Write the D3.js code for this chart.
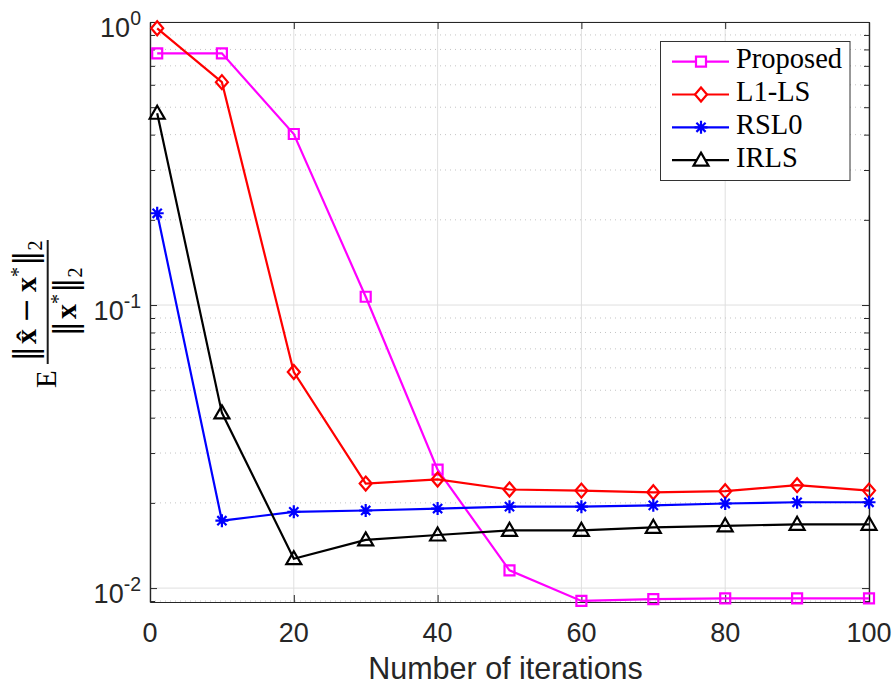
<!DOCTYPE html>
<html>
<head>
<meta charset="utf-8">
<script src="https://cdn.jsdelivr.net/npm/d3@7"></script>
<style>
  body { margin: 0; background: #fff; }
  .axis path, .axis line { stroke: #262626; }
  .tick-label { font-family: "Liberation Sans", Arial, sans-serif; fill: #262626; }
  .tex { font-family: "Liberation Serif", "Times New Roman", serif; fill: #000; }
  .bars { font-family: "DejaVu Serif", serif; }
</style>
</head>
<body>
<div id="chart"></div>
<script>
// iterations on the x axis
var iterations = [1, 10, 20, 30, 40, 50, 60, 70, 80, 90, 100];

// normalised error for each method
var proposed = [0.775, 0.775, 0.402, 0.107, 0.0262, 0.01155, 0.00901, 0.00914, 0.0092, 0.0092, 0.0092];
var l1ls     = [0.95, 0.613, 0.058, 0.0234, 0.0242, 0.0223, 0.0221, 0.0218, 0.0220, 0.0231, 0.0221];
var rsl0     = [0.211, 0.0173, 0.0186, 0.0188, 0.0191, 0.0194, 0.0194, 0.0196, 0.0199, 0.0201, 0.0201];
var irls     = [0.476, 0.0416, 0.0127, 0.0148, 0.0154, 0.0160, 0.0160, 0.0164, 0.0166, 0.0168, 0.0168];

var seriesNames = ["Proposed", "L1-LS", "RSL0", "IRLS"];
var seriesColors = ["#ff00ff", "#ff0000", "#0000ff", "#000000"];
var seriesMarkers = ["square", "diamond", "asterisk", "triangle"];

var xTicks = [0, 20, 40, 60, 80, 100];
var yDecades = [-2, -1, 0];

var width = 893, height = 687;
var margin = {top: 22, right: 24, bottom: 85, left: 150};

var svg = d3.select("#chart").append("svg")
  .attr("width", width)
  .attr("height", height);

var xScale = d3.scaleLinear()
  .domain([0, 100])
  .range([margin.left, width - margin.right]);

var yScale = d3.scaleLog()
  .domain([0.00893, 1])
  .range([height - margin.bottom, margin.top]);

var x0 = xScale.range()[0], x1 = xScale.range()[1];
var yB = yScale.range()[0], yT = yScale.range()[1];

var majorY = yDecades.map(function(e) { return Math.pow(10, e); });
var minorY = [];
[-3, -2, -1].forEach(function(e) {
  for (var k = 2; k <= 9; k++) {
    var v = k * Math.pow(10, e);
    if (v >= yScale.domain()[0] && v <= yScale.domain()[1]) minorY.push(v);
  }
});

// grid
var grid = svg.append("g");
grid.selectAll(".gx").data(xTicks).enter().append("line")
  .attr("x1", function(d) { return xScale(d); })
  .attr("x2", function(d) { return xScale(d); })
  .attr("y1", yT).attr("y2", yB)
  .attr("stroke", "#dfdfdf").attr("stroke-width", 1);
grid.selectAll(".gmy").data(minorY).enter().append("line")
  .attr("x1", x0).attr("x2", x1)
  .attr("y1", function(d) { return yScale(d); })
  .attr("y2", function(d) { return yScale(d); })
  .attr("stroke", "#c4c4c4").attr("stroke-width", 1)
  .attr("stroke-dasharray", "1,4");
grid.selectAll(".gy").data(majorY).enter().append("line")
  .attr("x1", x0).attr("x2", x1)
  .attr("y1", function(d) { return yScale(d); })
  .attr("y2", function(d) { return yScale(d); })
  .attr("stroke", "#dfdfdf").attr("stroke-width", 1);

// axes (ticks inside, box on)
function styleAxis(g) {
  g.attr("class", "axis");
  g.select(".domain").attr("stroke-width", 1.2);
  g.selectAll(".tick line").attr("stroke-width", 1);
}
svg.append("g")
  .attr("transform", "translate(0," + yB + ")")
  .call(d3.axisBottom(xScale).tickValues(xTicks).tickSize(-7).tickSizeOuter(0).tickFormat(""))
  .call(styleAxis);
svg.append("g")
  .attr("transform", "translate(0," + yT + ")")
  .call(d3.axisTop(xScale).tickValues(xTicks).tickSize(-7).tickSizeOuter(0).tickFormat(""))
  .call(styleAxis);
svg.append("g")
  .attr("transform", "translate(" + x0 + ",0)")
  .call(d3.axisLeft(yScale).tickValues(majorY).tickSize(-7).tickSizeOuter(0).tickFormat(""))
  .call(styleAxis);
svg.append("g")
  .attr("transform", "translate(" + x0 + ",0)")
  .call(d3.axisLeft(yScale).tickValues(minorY).tickSize(-5).tickSizeOuter(0).tickFormat(""))
  .call(styleAxis);
svg.append("g")
  .attr("transform", "translate(" + x1 + ",0)")
  .call(d3.axisRight(yScale).tickValues(majorY).tickSize(-7).tickSizeOuter(0).tickFormat(""))
  .call(styleAxis);
svg.append("g")
  .attr("transform", "translate(" + x1 + ",0)")
  .call(d3.axisRight(yScale).tickValues(minorY).tickSize(-5).tickSizeOuter(0).tickFormat(""))
  .call(styleAxis);

// x tick labels
svg.selectAll(".xl").data(xTicks).enter().append("text")
  .attr("class", "tick-label")
  .attr("x", function(d) { return xScale(d); })
  .attr("y", yB + 40)
  .attr("text-anchor", "middle")
  .style("font-size", "27px")
  .text(function(d) { return d; });

// y tick labels 10^n
var yl = svg.selectAll(".yl").data(yDecades).enter().append("text")
  .attr("class", "tick-label")
  .attr("x", x0 - 9)
  .attr("y", function(d) { return yScale(Math.pow(10, d)) + 14.5; })
  .attr("text-anchor", "end")
  .style("font-size", "27px");
yl.append("tspan").text("10");
yl.append("tspan").attr("dy", -12).style("font-size", "19.5px")
  .text(function(d) { return d === 0 ? "0" : "-" + Math.abs(d); });

// x label
svg.append("text")
  .attr("class", "tick-label")
  .attr("x", (x0 + x1) / 2 - 4)
  .attr("y", 678.5)
  .attr("text-anchor", "middle")
  .style("font-size", "30.5px")
  .text("Number of iterations");

// y label: E ||x^ - x*||_2 / ||x*||_2
var ylab = svg.append("g").attr("transform", "translate(47.7,302) rotate(-90)");
ylab.append("text").attr("class", "tex")
  .attr("x", -86).attr("y", 8)
  .style("font-size", "29px")
  .text("E");
ylab.append("line")
  .attr("x1", -62).attr("x2", 62).attr("y1", 0).attr("y2", 0)
  .attr("stroke", "#1a1a1a").attr("stroke-width", 2);

function normParts(t, withHat) {
  t.append("tspan").attr("class", "bars").style("font-size", "31px").text("\u2016");
  t.append("tspan").attr("dx", 2).style("font-weight", "bold").text(withHat ? "x\u0302" : "x");
}
var num = ylab.append("text").attr("class", "tex")
  .attr("x", 1).attr("y", -11.5)
  .attr("text-anchor", "middle")
  .style("font-size", "30px");
normParts(num, true);
num.append("tspan").attr("class", "bars").style("font-size", "30px").text("\u2009\u2212\u2009");
num.append("tspan").style("font-weight", "bold").text("x");
num.append("tspan").attr("dy", -11).style("font-size", "20px").text("*");
num.append("tspan").attr("dy", 11).attr("dx", 1).attr("class", "bars").style("font-size", "31px").text("\u2016");
num.append("tspan").attr("dy", 6).style("font-size", "20px").text("2");

var den = ylab.append("text").attr("class", "tex")
  .attr("x", 0).attr("y", 28)
  .attr("text-anchor", "middle")
  .style("font-size", "30px");
normParts(den, false);
den.append("tspan").attr("dy", -11).style("font-size", "20px").text("*");
den.append("tspan").attr("dy", 11).attr("dx", 1).attr("class", "bars").style("font-size", "31px").text("\u2016");
den.append("tspan").attr("dy", 6).style("font-size", "20px").text("2");

// markers
function markerPath(type) {
  var p = d3.path();
  if (type === "square") {
    p.rect(-5, -5, 10, 10);
  } else if (type === "diamond") {
    p.moveTo(0, -7); p.lineTo(6, 0); p.lineTo(0, 7); p.lineTo(-6, 0); p.closePath();
  } else if (type === "triangle") {
    p.moveTo(0, -7.5); p.lineTo(7.5, 5.5); p.lineTo(-7.5, 5.5); p.closePath();
  } else if (type === "asterisk") {
    p.moveTo(-6.5, 0); p.lineTo(6.5, 0);
    p.moveTo(0, -6.5); p.lineTo(0, 6.5);
    p.moveTo(-4.6, -4.6); p.lineTo(4.6, 4.6);
    p.moveTo(-4.6, 4.6); p.lineTo(4.6, -4.6);
  }
  return p.toString();
}

var allSeries = [proposed, l1ls, rsl0, irls];
var line = d3.line()
  .x(function(d) { return xScale(d.x); })
  .y(function(d) { return yScale(d.y); });

allSeries.forEach(function(vals, i) {
  var pts = vals.map(function(v, j) { return {x: iterations[j], y: v}; });
  var g = svg.append("g");
  g.append("path")
    .datum(pts)
    .attr("d", line)
    .attr("fill", "none")
    .attr("stroke", seriesColors[i])
    .attr("stroke-width", 2.2);
  g.selectAll(".m").data(pts).enter().append("path")
    .attr("transform", function(d) { return "translate(" + xScale(d.x) + "," + yScale(d.y) + ")"; })
    .attr("d", markerPath(seriesMarkers[i]))
    .attr("fill", "none")
    .attr("stroke", seriesColors[i])
    .attr("stroke-width", 2.2);
});

// legend
var legend = svg.append("g");
legend.append("rect")
  .attr("x", 660.5).attr("y", 41.5)
  .attr("width", 189.5).attr("height", 139)
  .attr("fill", "#fff")
  .attr("stroke", "#333").attr("stroke-width", 1);
seriesNames.forEach(function(name, i) {
  var ry = 61.7 + i * 32.8;
  legend.append("line")
    .attr("x1", 672).attr("x2", 729).attr("y1", ry).attr("y2", ry)
    .attr("stroke", seriesColors[i]).attr("stroke-width", 2.2);
  legend.append("path")
    .attr("transform", "translate(701," + ry + ")")
    .attr("d", markerPath(seriesMarkers[i]))
    .attr("fill", "#fff")
    .attr("stroke", seriesColors[i]).attr("stroke-width", 2.2);
  legend.append("text")
    .attr("class", "tex")
    .attr("x", 736).attr("y", ry + 6.5)
    .style("font-size", "28.5px")
    .text(name);
});
</script>
</body>
</html>
